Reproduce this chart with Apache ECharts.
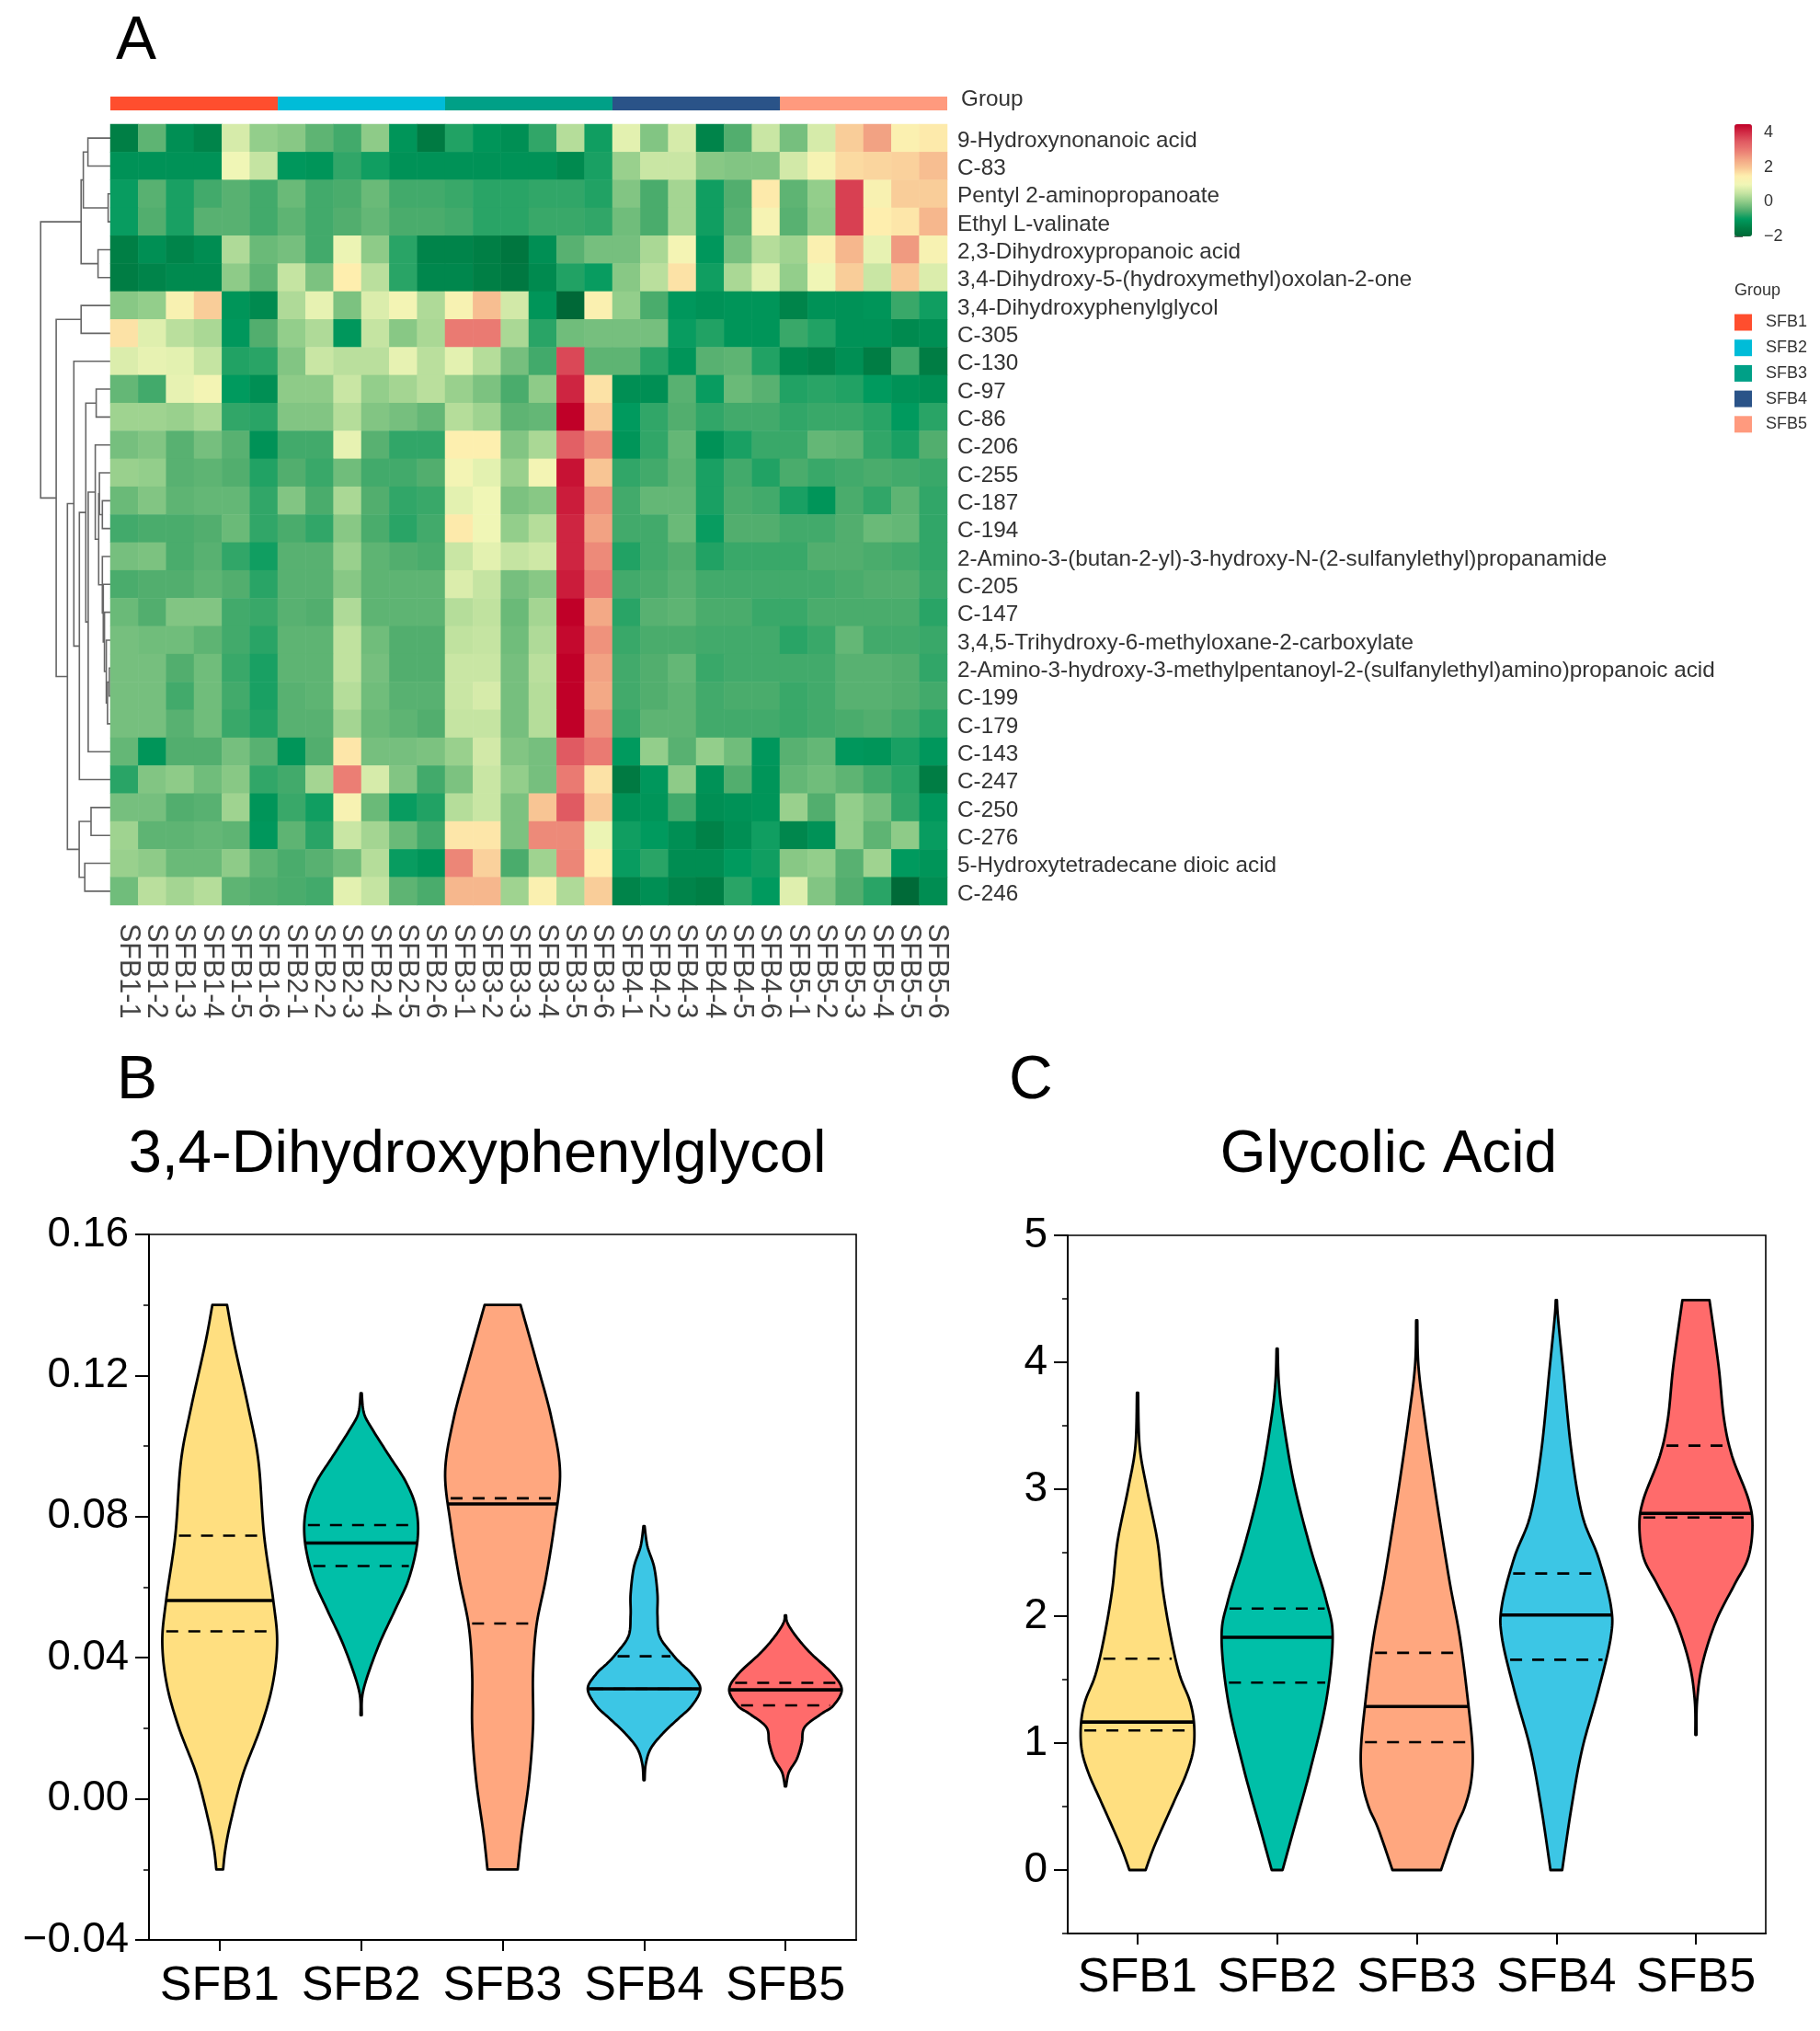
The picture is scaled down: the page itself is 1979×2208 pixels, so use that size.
<!DOCTYPE html>
<html>
<head>
<meta charset="utf-8">
<style>html,body{margin:0;padding:0;background:#fff}#c{width:1979px;height:2208px}</style>
<script src="https://cdn.jsdelivr.net/npm/echarts@6/dist/echarts.min.js"></script>
</head>
<body>
<div id="c"></div>
<script>
var groups = ['SFB1','SFB2','SFB3','SFB4','SFB5'];
var groupColors = ['#FF4E2E','#00BCD8','#00A087','#2A5388','#FF9A7E'];
var samples = [];
groups.forEach(function(g){ for (var i=1;i<=6;i++) samples.push(g+'-'+i); });
var rowLabels = ['9-Hydroxynonanoic acid','C-83','Pentyl 2-aminopropanoate','Ethyl L-valinate','2,3-Dihydroxypropanoic acid','3,4-Dihydroxy-5-(hydroxymethyl)oxolan-2-one','3,4-Dihydroxyphenylglycol','C-305','C-130','C-97','C-86','C-206','C-255','C-187','C-194','2-Amino-3-(butan-2-yl)-3-hydroxy-N-(2-sulfanylethyl)propanamide','C-205','C-147','3,4,5-Trihydroxy-6-methyloxane-2-carboxylate','2-Amino-3-hydroxy-3-methylpentanoyl-2-(sulfanylethyl)amino)propanoic acid','C-199','C-179','C-143','C-247','C-250','C-276','5-Hydroxytetradecane dioic acid','C-246'];
var heatValues = [
[-1.5,-.4,-1.2,-1.4,.7,.05,-.05,-.4,-.6,0,-1.1,-1.6,-.8,-1.1,-1.2,-.7,.35,-.9,.85,-.1,.7,-1.4,-.5,.55,-.2,.7,1.9,2.5,1.4,1.55],
[-1.15,-1.15,-1.15,-1.15,1,.5,-1.05,-1.1,-.7,-.9,-1.15,-1.15,-1.15,-1.15,-1.15,-1.15,-1.3,-.85,.1,.55,.55,-.05,-.1,-.1,.65,1.2,1.75,1.8,1.85,2.1],
[-.95,-.45,-.85,-.6,-.45,-.6,-.3,-.6,-.55,-.3,-.6,-.6,-.65,-.75,-.75,-.7,-.7,-.8,-.1,-.55,.2,-.9,-.5,1.55,-.4,.05,3.8,1.3,1.9,1.9],
[-.95,-.5,-.85,-.45,-.45,-.6,-.4,-.6,-.5,-.35,-.55,-.55,-.6,-.75,-.75,-.65,-.65,-.7,-.25,-.55,.2,-.9,-.45,1.2,-.45,0,3.8,1.5,1.6,2.2],
[-1.5,-1.2,-1.4,-1.25,.3,-.3,-.2,-.6,.95,0,-.75,-1.4,-1.4,-1.5,-1.7,-1.2,-.45,-.2,-.2,.25,1.15,-1.05,-.2,.35,.15,1.35,2.2,.9,2.6,1.25],
[-1.55,-1.4,-1.3,-1.3,0,-.4,.5,-.15,1.5,.4,-.75,-1.35,-1.35,-1.5,-1.65,-1.3,-.8,-.95,-.05,.4,1.65,-.9,.25,.85,.05,1,1.9,.55,1.95,.75],
[-.05,.05,1.3,1.9,-1.1,-1.3,.3,.9,-.15,.75,1.1,.3,1.25,2.1,.65,-1.1,-2,1.35,.05,-.55,-1.05,-1.15,-1.1,-1.1,-1.4,-1.15,-1.15,-1.1,-.65,-.9],
[1.65,.8,.4,.25,-1.05,-.5,.05,.3,-1.05,.5,-.05,.25,3,3,.25,-.75,-.25,-.2,-.2,-.2,-.95,-.8,-1.1,-1.1,-.65,-.8,-1.15,-1.15,-1.3,-1.2],
[.75,.9,.85,.5,-.8,-.75,-.1,.55,.4,.4,.9,.4,.85,.35,-.2,-.6,3.7,-.4,-.4,-.75,-1.1,-.45,-.4,-.8,-1.3,-1.4,-1.2,-1.55,-.6,-1.55],
[-.35,-.6,.9,1.1,-1,-1.2,0,0,.55,.05,.2,.4,.1,-.15,-.55,0,4.1,1.65,-1.2,-1.2,-.45,-.95,-.3,-.45,-.8,-.75,-.8,-1,-1.15,-1.2],
[.15,.15,.1,.25,-.7,-.75,-.1,-.1,.35,-.1,-.2,-.35,.35,.15,-.4,-.35,4.5,1.95,-1,-.7,-.5,-.7,-.6,-.6,-.7,-.65,-.65,-.75,-1,-.75],
[-.2,-.1,-.45,-.2,-.45,-1.15,-.6,-.6,.9,-.45,-.7,-.7,1.45,1.45,-.1,.25,3.4,2.8,-1.1,-.7,-.35,-1.15,-.85,-.65,-.65,-.35,-.4,-.7,-.85,-.5],
[.1,.05,-.45,-.4,-.5,-.8,-.5,-.65,-.25,-.6,-.6,-.5,1.1,.85,.1,1.1,4.3,2,-.7,-.6,-.4,-.85,-.6,-.8,-.55,-.65,-.6,-.55,-.6,-.65],
[-.3,-.1,-.4,-.35,-.35,-.7,-.1,-.55,.25,-.5,-.7,-.65,.85,1,-.15,-.05,4.2,2.7,-.6,-.35,-.35,-.85,-.55,-.6,-.85,-1.1,-.55,-.7,-.4,-.7],
[-.6,-.55,-.55,-.5,-.3,-.7,-.55,-.7,-.05,-.55,-.75,-.6,1.55,1,.05,.35,4.1,2.5,-.6,-.6,-.3,-.95,-.5,-.5,-.6,-.6,-.5,-.3,-.35,-.7],
[-.2,-.15,-.55,-.45,-.7,-.9,-.45,-.45,.1,-.4,-.5,-.55,.55,.85,.5,.6,4.1,2.8,-.8,-.6,-.5,-.8,-.65,-.65,-.65,-.5,-.5,-.55,-.6,-.7],
[-.55,-.5,-.5,-.4,-.5,-.75,-.45,-.45,-.05,-.4,-.4,-.4,.75,.5,-.2,-.05,4.2,3,-.6,-.55,-.45,-.6,-.6,-.6,-.6,-.6,-.55,-.5,-.5,-.65],
[-.3,-.5,-.1,-.1,-.6,-.65,-.45,-.5,.3,-.4,-.4,-.4,.35,.45,-.3,.2,4.5,2.4,-.75,-.45,-.4,-.55,-.55,-.65,-.65,-.55,-.55,-.55,-.55,-.75],
[-.2,-.25,-.25,-.4,-.6,-.75,-.4,-.4,.45,-.25,-.5,-.5,.45,.5,-.25,.3,4.4,2.7,-.65,-.55,-.55,-.6,-.6,-.6,-.75,-.65,-.35,-.6,-.6,-.65],
[-.2,-.2,-.5,-.25,-.65,-.85,-.4,-.4,.45,-.2,-.5,-.5,.55,.55,-.2,.4,4.5,2.5,-.6,-.5,-.35,-.65,-.6,-.6,-.6,-.6,-.45,-.45,-.5,-.7],
[-.2,-.2,-.6,-.25,-.6,-.85,-.45,-.4,.35,-.25,-.45,-.45,.55,.7,-.2,.35,4.5,2.4,-.6,-.5,-.4,-.6,-.55,-.55,-.65,-.6,-.45,-.45,-.5,-.6],
[-.2,-.2,-.45,-.25,-.65,-.8,-.45,-.45,.2,-.3,-.4,-.5,.5,.5,-.2,.35,4.5,2.7,-.65,-.4,-.4,-.6,-.6,-.6,-.65,-.6,-.55,-.5,-.6,-.75],
[-.35,-1.1,-.5,-.5,-.2,-.45,-1.1,-.5,1.6,-.2,-.2,-.15,.1,.65,-.1,-.2,3.5,3,-1,.05,-.45,.05,-.25,-1.05,-.45,-.35,-1.05,-1.1,-.85,-1.05],
[-.75,-.1,0,-.25,-.05,-.7,-.6,.2,2.95,.7,-.1,-.6,-.15,.55,.05,-.2,3,1.65,-1.6,-1.05,0,-1.15,-.5,-1.1,-.35,-.25,-.4,-.6,-.75,-1.55],
[-.2,-.2,-.5,-.45,.15,-1.1,-.65,-.9,1.25,-.3,-.95,-.8,.35,.55,-.15,2,3.5,1.95,-1.15,-1.1,-.6,-1.2,-1.15,-1.1,.1,-.5,.05,-.2,-.7,-1.05],
[.15,-.4,-.4,-.35,-.4,-1.05,-.4,-.75,.55,.2,-.3,-.6,1.6,1.6,-.15,2.8,2.8,.95,-.9,-1,-1.2,-1.45,-1.2,-.9,-1.35,-1.15,.05,-.4,0,-.95],
[.1,0,-.3,-.3,0,-.4,-.55,-.45,-.25,.35,-.95,-1.1,2.85,1.85,-.55,.15,2.85,1.5,-.95,-.75,-1.25,-1.25,-1,-.9,-.05,.05,-.45,.15,-1,-1.1],
[-.25,.4,.2,.35,-.4,-.5,-.55,-.6,.85,.5,-.4,-.55,2.2,2.2,.15,1.35,.3,1.9,-1.4,-1.2,-1.4,-1.5,-.75,-1,.8,-.1,-.5,-.75,-1.95,-1.25]
];
var heatColors = ['#006837','#007f45','#009a5e','#52ae6e','#8ecb88','#c5e4a2','#f0f6b6','#feeeae','#f8c594','#f2a283','#ea7a72','#e05a62','#d22e47','#c00028'];

// Dendrogram merges: [child, child, merge height]. A number is a row; 'n..' is an earlier merge.
var dendroMerges = {
  n0:[0,1,24.4], n1:[2,3,2.4], n2:['n0','n1',29.4], n3:[4,5,13.4], n4:['n2','n3',31.8],
  n5:[6,7,31.8],
  nj:[19,20,1.1], nh:['nj',21,3.1], ng:[18,'nh',4.4], nf:[17,'ng',6.4], ne:[16,'nf',7.7], nc:[15,'ne',8.7],
  nk:[13,14,8.7], na:[12,'nk',11.9], nb:['na','nc',12.7], nm:[11,'nb',16.4], nn:['nm',22,24.1],
  np:[9,10,15.4], nq:['np','nn',26.7], nr:['nq',23,33.7], ns:[8,'nr',39.7],
  nt:[24,25,21], nu:[26,27,27.8], nv:['nt','nu',33.9], nw:['ns','nv',46.7],
  ny:['n5','nw',58.9], root:['n4','ny',75.8]
};

// Violin profiles: [value, half width as a share of one category band]
var violinB1 = [[-.02,.024],[-.0143,.04],[-.0068,.076],[.0068,.163],[.0203,.29],[.0324,.374],[.0445,.406],[.0565,.378],[.0746,.314],[.0957,.274],[.1108,.203],[.1289,.103],[.14,.052]];
var violinB2 = [[.0237,.004],[.0309,.016],[.043,.119],[.0535,.239],[.0625,.338],[.0731,.398],[.0821,.39],[.0897,.318],[.0972,.199],[.1047,.08],[.1093,.02],[.115,.004]];
var violinB3 = [[-.02,.107],[-.0098,.135],[.0053,.187],[.0203,.215],[.0354,.215],[.049,.239],[.0625,.306],[.0776,.366],[.0927,.406],[.1078,.346],[.1228,.247],[.14,.127]];
var violinB4 = [[.0053,.004],[.0098,.012],[.0143,.048],[.0188,.139],[.0226,.239],[.0264,.338],[.0312,.398],[.0354,.338],[.0384,.26],[.0407,.207],[.046,.111],[.052,.095],[.058,.095],[.0656,.072],[.0716,.024],[.0773,.004]];
var violinB5 = [[.0035,.004],[.0075,.024],[.0113,.08],[.0158,.115],[.0203,.135],[.0241,.254],[.0264,.338],[.0309,.398],[.0354,.334],[.0414,.175],[.046,.076],[.0497,.016],[.052,.004]];
var statsB = [[.0475,.0562,.0746],[.066,.0725,.0776],[.0497,.0836,.0852],[.0312,.0312,.0404],[.0265,.0309,.0329]];

var violinC1 = [[0,.058],[.197,.124],[.533,.259],[.76,.35],[.95,.4],[1.15,.405],[1.33,.375],[1.54,.301],[1.833,.239],[2.21,.181],[2.59,.143],[3.01,.066],[3.34,.015],[3.76,.004]];
var violinC2 = [[0,.039],[.323,.12],[.784,.236],[1.33,.351],[1.833,.398],[2.127,.351],[2.546,.236],[3.05,.12],[3.553,.042],[3.846,.012],[4.107,.004]];
var violinC3 = [[0,.174],[.323,.275],[.5,.345],[.7,.39],[.95,.4],[1.33,.367],[1.833,.309],[2.294,.232],[2.966,.135],[3.553,.058],[3.973,.012],[4.33,.004]];
var violinC4 = [[0,.042],[.491,.108],[.952,.185],[1.414,.301],[1.833,.39],[2.085,.39],[2.462,.301],[2.798,.185],[3.3,.108],[3.93,.05],[4.35,.012],[4.49,.004]];
var violinC5 = [[1.065,.004],[1.33,.008],[1.623,.046],[1.959,.143],[2.252,.278],[2.462,.375],[2.714,.405],[2.924,.375],[3.26,.259],[3.553,.201],[3.972,.162],[4.49,.097]];
var statsC = [[1.10,1.166,1.665],[1.476,1.833,2.06],[1.007,1.288,1.711],[1.657,2.009,2.336],[2.777,2.81,3.343]];

var violinColors = ['#FFDF80','#00BFA8','#FFA77F','#3CC6E5','#FF6B6B'];
var FONT = '"Liberation Sans", Arial, sans-serif';

function spline(pts){ // Catmull-Rom through screen points, only for drawing a smooth edge
  var out = [];
  for (var i=0;i<pts.length-1;i++){
    var p0=pts[Math.max(i-1,0)],p1=pts[i],p2=pts[i+1],p3=pts[Math.min(i+2,pts.length-1)];
    for (var k=0;k<12;k++){
      var t=k/12,t2=t*t,t3=t2*t;
      out.push([
        0.5*(2*p1[0]+(p2[0]-p0[0])*t+(2*p0[0]-5*p1[0]+4*p2[0]-p3[0])*t2+(3*p1[0]-p0[0]-3*p2[0]+p3[0])*t3),
        0.5*(2*p1[1]+(p2[1]-p0[1])*t+(2*p0[1]-5*p1[1]+4*p2[1]-p3[1])*t2+(3*p1[1]-p0[1]-3*p2[1]+p3[1])*t3)
      ]);
    }
  }
  out.push(pts[pts.length-1]);
  return out;
}
function violinRenderer(profiles, stats){
  return function(params, api){
    var i = params.dataIndex;
    var prof = profiles[i];
    var band = api.size([1,0])[0];
    var cx = api.coord([i, 0])[0];
    var right = spline(prof.map(function(p){ return [band*p[1], api.coord([i,p[0]])[1]]; }));
    var poly = right.map(function(p){ return [cx+Math.max(p[0],0.5),p[1]]; });
    for (var k=right.length-1;k>=0;k--) poly.push([cx-Math.max(right[k][0],0.5),right[k][1]]);
    function halfAt(v){
      var y = api.coord([i,v])[1];
      for (var k=0;k<right.length-1;k++){
        var a=right[k],b=right[k+1];
        if ((a[1]-y)*(b[1]-y)<=0){ var t=(y-a[1])/((b[1]-a[1])||1); return {y:y,h:a[0]+(b[0]-a[0])*t}; }
      }
      return {y:y,h:0};
    }
    function seg(v,w,dash){
      var s = halfAt(v);
      return {type:'line',shape:{x1:cx-s.h+(dash?4:0),y1:s.y,x2:cx+s.h-(dash?4:0),y2:s.y},style:{stroke:'#000',lineWidth:w,lineDash:dash?[13,11]:null}};
    }
    var st = stats[i];
    return {type:'group',children:[
      {type:'polygon',shape:{points:poly},style:{fill:violinColors[i],stroke:'#000',lineWidth:2.8,lineJoin:'round'}},
      seg(st[0],2.6,true),seg(st[2],2.6,true),seg(st[1],3.6,false)
    ]};
  };
}
function dendroRenderer(params, api){
  var pos = {};
  var children = [];
  function y(c){ return typeof c==='number' ? c+0.5 : pos[c]; }
  Object.keys(dendroMerges).forEach(function(id){
    var m = dendroMerges[id];
    var ya=y(m[0]),yb=y(m[1]);
    pos[id]=(ya+yb)/2;
    var ha = typeof m[0]==='number'?0:dendroMerges[m[0]][2];
    var hb = typeof m[1]==='number'?0:dendroMerges[m[1]][2];
    var p1=api.coord([ha,ya]),p2=api.coord([m[2],ya]),p3=api.coord([m[2],yb]),p4=api.coord([hb,yb]);
    children.push({type:'polyline',shape:{points:[p1,p2,p3,p4]},style:{fill:'none',stroke:'#666',lineWidth:1.6}});
  });
  return {type:'group',children:children};
}
function dash(s){ return String(s).replace('-','\u2212'); }

var heatData = [];
heatValues.forEach(function(r,ri){ r.forEach(function(v,ci){ heatData.push([ci,ri,v]); }); });

var gB = {left:162,top:1342,width:769,height:767};
var gC = {left:1161,top:1343,width:759,height:759};

var majorAxis = function(){ return {
  axisLine:{show:true,onZero:false,lineStyle:{color:'#000',width:2}},
  axisTick:{show:true,length:15,lineStyle:{color:'#000',width:2}},
  splitLine:{show:false}
};};

var option = {
  backgroundColor:'#fff',
  animation:false,
  textStyle:{fontFamily:FONT},
  title:[
    {text:'A',left:121,top:8,textStyle:{fontSize:66,fontWeight:'normal',color:'#000',fontFamily:FONT}},
    {text:'B',left:122,top:1138,textStyle:{fontSize:66,fontWeight:'normal',color:'#000',fontFamily:FONT}},
    {text:'C',left:1092,top:1138,textStyle:{fontSize:66,fontWeight:'normal',color:'#000',fontFamily:FONT}},
    {text:'3,4-Dihydroxyphenylglycol',left:514,textAlign:'center',top:1219,textStyle:{fontSize:65,fontWeight:'normal',color:'#000',fontFamily:FONT}},
    {text:'Glycolic Acid',left:1505,textAlign:'center',top:1219,textStyle:{fontSize:64,fontWeight:'normal',color:'#000',fontFamily:FONT}},
    {text:'Group',left:1881,top:302,textStyle:{fontSize:18,fontWeight:'normal',color:'#333',fontFamily:FONT}},
    {text:'Group',left:1040,top:91,textStyle:{fontSize:24.3,fontWeight:'normal',color:'#333',fontFamily:FONT}}
  ],
  legend:{
    data:groups,orient:'vertical',left:1886,top:341.5,padding:0,itemWidth:19,itemHeight:18,itemGap:9.7,
    icon:'rect',selectedMode:false,textStyle:{fontSize:18,color:'#333',fontFamily:FONT,padding:[0,0,0,10]}
  },
  visualMap:{
    type:'continuous',min:-2,max:4.5,seriesIndex:1,left:1886,top:135,itemWidth:19,itemHeight:122,
    calculable:false,show:true,text:null,showLabel:false,padding:0,inRange:{color:heatColors}
  },
  grid:[
    {left:40,top:135,width:80,height:849},
    {left:120,top:135,width:910,height:849},
    {left:120,top:105,width:910,height:15},
    {left:1886,top:135,width:19,height:122},
    Object.assign({show:true,borderColor:'#000',borderWidth:1.6},gB),
    Object.assign({show:true,borderColor:'#000',borderWidth:1.6},gC),
    {left:124,top:138,width:910,height:849}
  ],
  xAxis:[
    {gridIndex:0,type:'value',min:0,max:80,inverse:true,show:false},
    {gridIndex:1,type:'category',data:samples,show:false},
    {gridIndex:2,type:'value',min:0,max:5,show:false},
    {gridIndex:3,type:'value',show:false},
    Object.assign(majorAxis(),{gridIndex:4,type:'category',data:groups,axisTick:{show:true,alignWithLabel:true,length:12,lineStyle:{color:'#000',width:2}},
      axisLabel:{interval:0,margin:25,fontSize:52,color:'#000',fontFamily:FONT}}),
    Object.assign(majorAxis(),{gridIndex:5,type:'category',data:groups,axisTick:{show:true,alignWithLabel:true,length:12,lineStyle:{color:'#000',width:2}},
      axisLabel:{interval:0,margin:23,fontSize:52,color:'#000',fontFamily:FONT}}),
    {gridIndex:6,type:'category',data:samples,axisLine:{show:false},axisTick:{show:false},
      axisLabel:{interval:0,rotate:-90,margin:17,fontSize:30.5,color:'#444',fontFamily:FONT}}
  ],
  yAxis:[
    {gridIndex:0,type:'value',min:0,max:28,inverse:true,show:false},
    {gridIndex:1,type:'category',data:rowLabels,inverse:true,show:false},
    {gridIndex:2,type:'category',data:['Group'],show:false},
    {gridIndex:3,type:'value',position:'right',min:-2,max:4.5,axisLine:{show:false},splitLine:{show:false},
      axisTick:{show:true,length:9,customValues:[-2,0,2,4],lineStyle:{color:'#333',width:1.5}},
      axisLabel:{margin:13,fontSize:18,color:'#333',customValues:[-2,0,2,4],formatter:dash,fontFamily:FONT}},
    Object.assign(majorAxis(),{gridIndex:4,position:'left',type:'value',min:-0.04,max:0.16,interval:0.04,
      axisLabel:{margin:22,fontSize:45.5,color:'#000',fontFamily:FONT,formatter:function(v){return dash(v.toFixed(2));}}}),
    {gridIndex:4,position:'left',type:'value',min:-0.04,max:0.16,interval:0.02,axisLine:{show:false},splitLine:{show:false},axisLabel:{show:false},
      axisTick:{show:true,length:6,lineStyle:{color:'#000',width:1.5}}},
    Object.assign(majorAxis(),{gridIndex:5,position:'left',type:'value',min:-0.5,max:5,
      axisTick:{show:true,length:15,customValues:[0,1,2,3,4,5],lineStyle:{color:'#000',width:2}},
      axisLabel:{margin:22,fontSize:46,color:'#000',fontFamily:FONT,customValues:[0,1,2,3,4,5]}}),
    {gridIndex:5,position:'left',type:'value',min:-0.5,max:5,interval:0.5,axisLine:{show:false},splitLine:{show:false},axisLabel:{show:false},
      axisTick:{show:true,length:6,lineStyle:{color:'#000',width:1.5}}},
    {gridIndex:6,type:'category',data:rowLabels,inverse:true,position:'right',axisLine:{show:false},axisTick:{show:false},
      axisLabel:{interval:0,margin:7,fontSize:24.3,color:'#333',fontFamily:FONT}}
  ],
  series:[
    {type:'custom',name:'dendrogram',xAxisIndex:0,yAxisIndex:0,data:[[0,0]],renderItem:dendroRenderer,silent:true,clip:false},
    {type:'heatmap',name:'heat',xAxisIndex:1,yAxisIndex:1,data:heatData,progressive:0,itemStyle:{borderWidth:0},emphasis:{disabled:true}},
    {type:'custom',name:'violinB',xAxisIndex:4,yAxisIndex:4,data:groups.map(function(g,i){return [i];}),clip:false,
      renderItem:violinRenderer([violinB1,violinB2,violinB3,violinB4,violinB5],statsB)},
    {type:'custom',name:'violinC',xAxisIndex:5,yAxisIndex:6,data:groups.map(function(g,i){return [i];}),clip:false,
      renderItem:violinRenderer([violinC1,violinC2,violinC3,violinC4,violinC5],statsC)}
  ].concat(groups.map(function(g,i){
    return {type:'bar',name:g,xAxisIndex:2,yAxisIndex:2,stack:'g',barWidth:'100%',data:[1],itemStyle:{color:groupColors[i]},silent:true};
  }))
};
var chart = echarts.init(document.getElementById('c'),null,{renderer:'canvas',width:1979,height:2208});
chart.setOption(option);
</script>
</body>
</html>
